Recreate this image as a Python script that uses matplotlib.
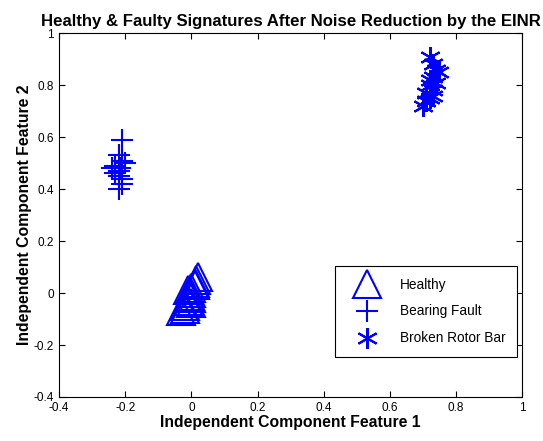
import numpy as np
import matplotlib
matplotlib.use("Agg")
import matplotlib.pyplot as plt

plt.rcParams["font.family"] = ["Liberation Sans", "DejaVu Sans"]

# Healthy (triangles)
healthy_x = [-0.03, -0.02, -0.01, 0.00, 0.00, 0.01, 0.02, -0.01, 0.00, 0.01, -0.02, 0.00, 0.015, -0.005]
healthy_y = [-0.07, -0.05, -0.03, 0.00, 0.02, 0.03, 0.06, 0.01, -0.02, 0.04, -0.06, -0.04, 0.05, -0.01]

# Bearing fault (plus)
bearing_x = [-0.21, -0.22, -0.21, -0.24, -0.22, -0.23, -0.22, -0.21, -0.21, -0.22, -0.20, -0.23, -0.215]
bearing_y = [0.59, 0.53, 0.51, 0.48, 0.47, 0.46, 0.45, 0.44, 0.42, 0.40, 0.50, 0.49, 0.48]

# Broken rotor bar (star)
rotor_x = [0.72, 0.73, 0.74, 0.75, 0.73, 0.74, 0.72, 0.73, 0.71, 0.72, 0.71, 0.70, 0.73, 0.72]
rotor_y = [0.91, 0.88, 0.86, 0.85, 0.83, 0.81, 0.80, 0.78, 0.77, 0.75, 0.74, 0.72, 0.76, 0.82]

fig = plt.figure(figsize=(5.43, 4.41), dpi=100)
ax = fig.add_axes([0.1087, 0.0998, 0.853, 0.825])

ax.plot(healthy_x, healthy_y, linestyle="none", marker="^", ms=20, mfc="none", mec="blue", mew=1.5, label="Healthy")
ax.plot(bearing_x, bearing_y, linestyle="none", marker="+", ms=16, mec="blue", mew=1.5, label="Bearing Fault")
ax.plot(rotor_x, rotor_y, linestyle="none", marker=(6, 2, 0), ms=15, mec="blue", mew=1.5, label="Broken Rotor Bar")

ax.set_xlim(-0.4, 1)
ax.set_ylim(-0.4, 1)
ax.set_xticks(np.arange(-0.4, 1.01, 0.2))
ax.set_yticks(np.arange(-0.4, 1.01, 0.2))
ax.set_xticklabels(["-0.4", "-0.2", "0", "0.2", "0.4", "0.6", "0.8", "1"])
ax.set_yticklabels(["-0.4", "-0.2", "0", "0.2", "0.4", "0.6", "0.8", "1"])
ax.tick_params(direction="in", labelsize=8.5, top=True, right=True, length=4)

ax.set_xlabel("Independent Component Feature 1", fontsize=11.3, fontweight="bold", labelpad=1)
ax.set_ylabel("Independent Component Feature 2", fontsize=11.3, fontweight="bold", labelpad=1)
ax.set_title("Healthy & Faulty Signatures After Noise Reduction by the EINR", fontsize=12.1, fontweight="bold", pad=5)

leg = ax.legend(loc="lower right", bbox_to_anchor=(0.989, 0.11), borderaxespad=0, fontsize=9.8, fancybox=False,
                framealpha=1, edgecolor="black", borderpad=0.85, labelspacing=0.95, handlelength=3.0, handletextpad=0.9)
leg.get_frame().set_linewidth(0.8)

fig.savefig("out.png", dpi=100)
